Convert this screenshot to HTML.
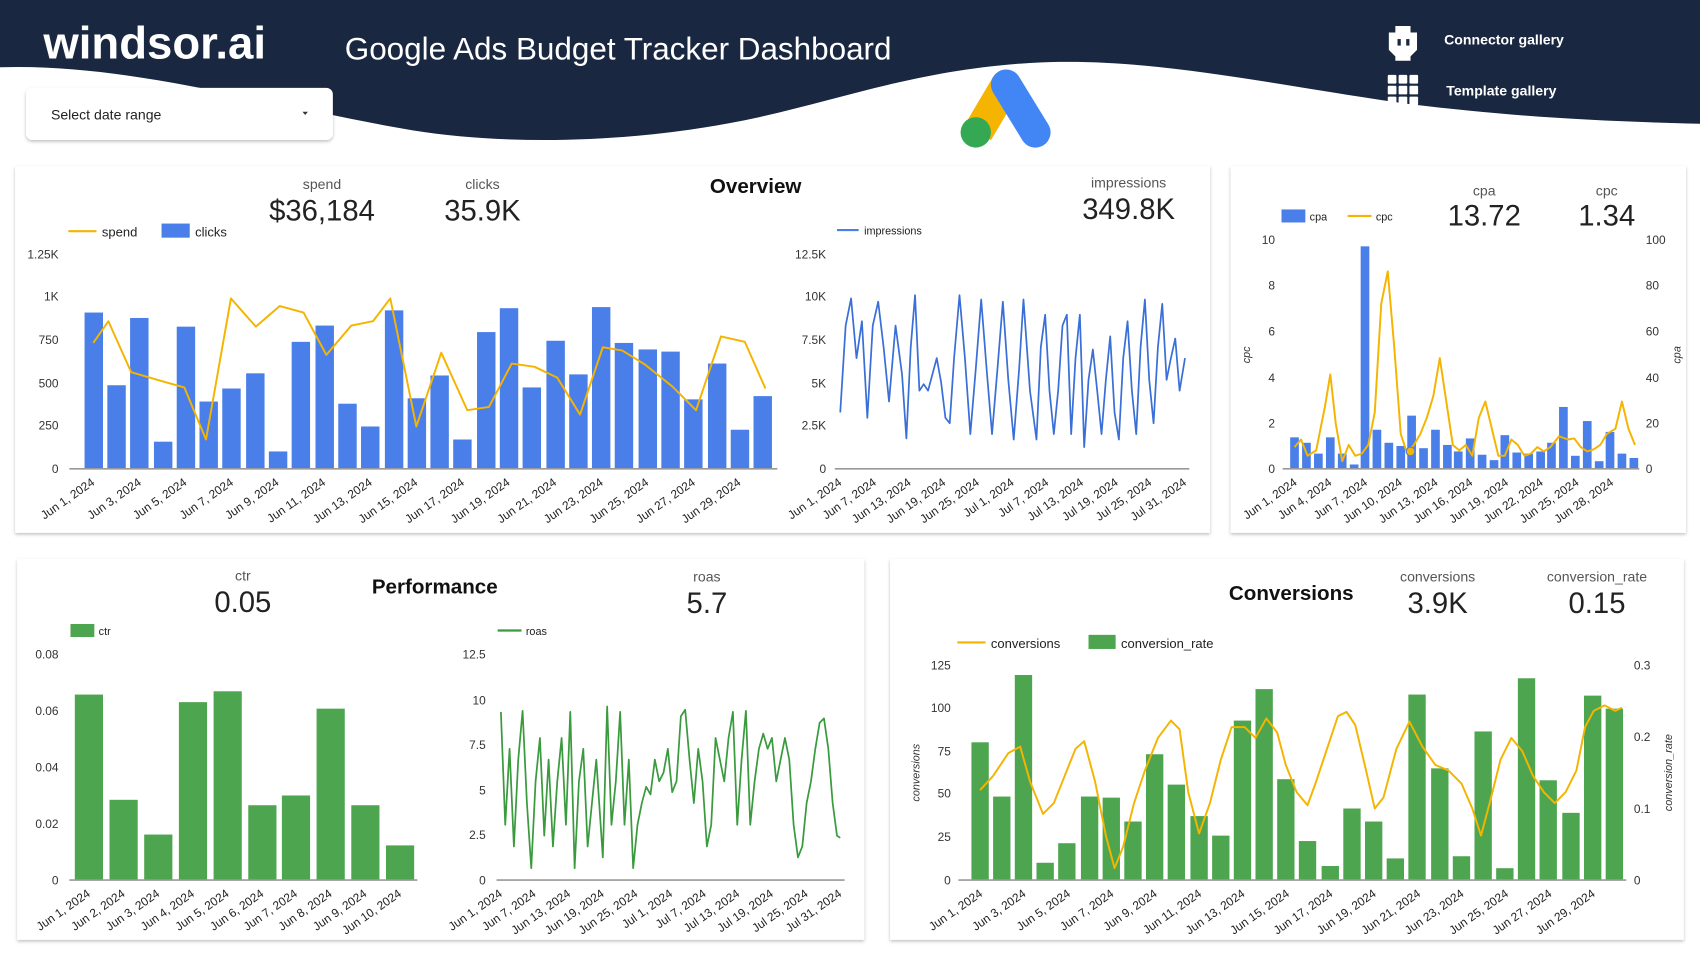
<!DOCTYPE html>
<html><head><meta charset="utf-8"><style>
html,body{margin:0;padding:0;background:#fff;}
svg{display:block;font-family:"Liberation Sans",sans-serif;}
.t{font-size:11px;fill:#333;}
.xl{font-size:11px;fill:#222;}
.ti{font-size:13px;fill:#555;}
.big{font-size:27px;fill:#222;}
.h{font-size:19px;font-weight:bold;fill:#111;}
</style></head><body>
<svg width="1700" height="955" viewBox="0 0 1568 880" preserveAspectRatio="none">
<defs>
<filter id="sh" x="-5%" y="-5%" width="110%" height="115%"><feDropShadow dx="0" dy="1.5" stdDeviation="1.5" flood-color="#000" flood-opacity="0.25"/></filter>
</defs>
<rect width="1568" height="880" fill="#fff"/>
<!-- header -->
<path d="M0,0 H1568 V114 C1480,112 1400,108 1300,96 C1160,76 1060,52 950,58 C850,64 780,90 700,108 C600,130 480,136 380,120 C250,98 120,58 0,62 Z" fill="#1a2741"/>
<text x="40" y="54" style="font-size:42px;font-weight:bold;fill:#fff">windsor.ai</text>
<text x="318" y="55" style="font-size:29px;fill:#fff">Google Ads Budget Tracker Dashboard</text>
<g fill="#fff"><path d="M1287,24 h14 v6 h6 v16 l-6,6 v4 h-14 v-4 l-6,-6 v-16 h6z"/></g>
<rect x="1289" y="36" width="3" height="6" fill="#1a2741"/><rect x="1297" y="36" width="3" height="6" fill="#1a2741"/>
<text x="1332" y="41" style="font-size:13px;font-weight:bold;fill:#fff">Connector gallery</text>
<g fill="#fff"><rect x="1280" y="69" width="8" height="8" rx="1"/><rect x="1290" y="69" width="8" height="8" rx="1"/><rect x="1300" y="69" width="8" height="8" rx="1"/><rect x="1280" y="79" width="8" height="8" rx="1"/><rect x="1290" y="79" width="8" height="8" rx="1"/><rect x="1300" y="79" width="8" height="8" rx="1"/><rect x="1280" y="89" width="8" height="8" rx="1"/><rect x="1290" y="89" width="8" height="8" rx="1"/><rect x="1300" y="89" width="8" height="8" rx="1"/></g>
<text x="1334" y="88" style="font-size:13px;font-weight:bold;fill:#fff">Template gallery</text>
<rect x="24" y="81" width="283" height="48" rx="6" fill="#fff" filter="url(#sh)"/>
<text x="47" y="110" style="font-size:13px;fill:#222">Select date range</text>
<path d="M279,103 h5 l-2.5,3z" fill="#333"/>
<line x1="928" y1="78" x2="902" y2="122" stroke="#f4b400" stroke-width="28" stroke-linecap="butt"/>
<line x1="928" y1="78" x2="955" y2="122" stroke="#4285f4" stroke-width="28" stroke-linecap="round"/>
<circle cx="900" cy="122" r="14" fill="#34a853"/>

<!-- cards -->
<rect x="14" y="153" width="1102" height="338" fill="#fff" filter="url(#sh)"/>
<rect x="1135" y="153" width="420" height="338" fill="#fff" filter="url(#sh)"/>
<rect x="16" y="515" width="781" height="351" fill="#fff" filter="url(#sh)"/>
<rect x="821" y="515" width="732" height="351" fill="#fff" filter="url(#sh)"/>

<!-- Overview -->
<text x="297" y="174" class="ti" text-anchor="middle">spend</text>
<text x="297" y="203" class="big" text-anchor="middle">$36,184</text>
<text x="445" y="174" class="ti" text-anchor="middle">clicks</text>
<text x="445" y="203" class="big" text-anchor="middle">35.9K</text>
<text x="697" y="178" class="h" text-anchor="middle">Overview</text>
<text x="1041" y="173" class="ti" text-anchor="middle">impressions</text>
<text x="1041" y="202" class="big" text-anchor="middle">349.8K</text>
<line x1="63" y1="213" x2="89" y2="213" stroke="#f4b400" stroke-width="2"/>
<text x="94" y="218" style="font-size:12px;fill:#222">spend</text>
<rect x="149" y="206" width="26" height="13" fill="#4a7ee8"/>
<text x="180" y="218" style="font-size:12px;fill:#222">clicks</text>
<g class="t" text-anchor="end">
<text x="54" y="238" class="t">1.25K</text><text x="54" y="277" class="t">1K</text><text x="54" y="317" class="t">750</text><text x="54" y="357" class="t">500</text><text x="54" y="396" class="t">250</text><text x="54" y="436" class="t">0</text>
</g>
<g fill="#4a7ee8">
<rect x="78" y="288" width="17" height="144"/><rect x="99" y="355" width="17" height="77"/><rect x="120" y="293" width="17" height="139"/><rect x="142" y="407" width="17" height="25"/><rect x="163" y="301" width="17" height="131"/><rect x="184" y="370" width="17" height="62"/><rect x="205" y="358" width="17" height="74"/><rect x="227" y="344" width="17" height="88"/><rect x="248" y="416" width="17" height="16"/><rect x="269" y="315" width="17" height="117"/><rect x="291" y="300" width="17" height="132"/><rect x="312" y="372" width="17" height="60"/><rect x="333" y="393" width="17" height="39"/><rect x="355" y="286" width="17" height="146"/><rect x="376" y="367" width="17" height="65"/><rect x="397" y="346" width="17" height="86"/><rect x="418" y="405" width="17" height="27"/><rect x="440" y="306" width="17" height="126"/><rect x="461" y="284" width="17" height="148"/><rect x="482" y="357" width="17" height="75"/><rect x="504" y="314" width="17" height="118"/><rect x="525" y="345" width="17" height="87"/><rect x="546" y="283" width="17" height="149"/><rect x="567" y="316" width="17" height="116"/><rect x="589" y="322" width="17" height="110"/><rect x="610" y="324" width="17" height="108"/><rect x="631" y="368" width="17" height="64"/><rect x="653" y="335" width="17" height="97"/><rect x="674" y="396" width="17" height="36"/><rect x="695" y="365" width="17" height="67"/>
</g>
<line x1="64" y1="432" x2="717" y2="432" stroke="#999" stroke-width="1.5"/>
<polyline fill="none" stroke="#f4b400" stroke-width="1.8" stroke-linejoin="round" points="86,316 100,296 121,343 145,350 170,357 190,405 213,275 236,301 258,282 280,288 301,327 324,300 344,296 360,275 384,393 407,325 431,378 451,375 472,335 493,338 514,348 535,382 556,320 574,323 595,336 620,356 642,378 665,310 687,315 706,358"/>
<g class="xl" text-anchor="end">
<text transform="translate(88,446) rotate(-35)">Jun 1, 2024</text><text transform="translate(131,446) rotate(-35)">Jun 3, 2024</text><text transform="translate(173,446) rotate(-35)">Jun 5, 2024</text><text transform="translate(216,446) rotate(-35)">Jun 7, 2024</text><text transform="translate(258,446) rotate(-35)">Jun 9, 2024</text><text transform="translate(301,446) rotate(-35)">Jun 11, 2024</text><text transform="translate(344,446) rotate(-35)">Jun 13, 2024</text><text transform="translate(386,446) rotate(-35)">Jun 15, 2024</text><text transform="translate(429,446) rotate(-35)">Jun 17, 2024</text><text transform="translate(471,446) rotate(-35)">Jun 19, 2024</text><text transform="translate(514,446) rotate(-35)">Jun 21, 2024</text><text transform="translate(557,446) rotate(-35)">Jun 23, 2024</text><text transform="translate(599,446) rotate(-35)">Jun 25, 2024</text><text transform="translate(642,446) rotate(-35)">Jun 27, 2024</text><text transform="translate(684,446) rotate(-35)">Jun 29, 2024</text>
</g>
<!-- impressions -->
<line x1="772" y1="212" x2="792" y2="212" stroke="#4a7ee8" stroke-width="2"/>
<text x="797" y="216" style="font-size:10px;fill:#222">impressions</text>
<g text-anchor="end">
<text x="762" y="238" class="t">12.5K</text><text x="762" y="277" class="t">10K</text><text x="762" y="317" class="t">7.5K</text><text x="762" y="357" class="t">5K</text><text x="762" y="396" class="t">2.5K</text><text x="762" y="436" class="t">0</text>
</g>
<line x1="770" y1="432" x2="1097" y2="432" stroke="#999" stroke-width="1.5"/>
<polyline fill="none" stroke="#3a6fd8" stroke-width="1.6" stroke-linejoin="round" points="775,380 780,300 785,275 790,330 795,296 800,385 805,300 810,278 815,320 820,370 826,300 832,345 836,404 840,320 844,272 848,360 852,354 856,360 860,345 864,330 868,352 872,385 876,390 880,330 885,272 890,330 895,400 900,340 905,276 910,340 915,400 920,340 925,278 930,350 935,405 940,340 944,276 950,360 956,405 960,320 964,290 968,360 972,400 976,360 980,300 984,290 988,400 992,330 996,290 1000,412 1004,350 1008,322 1012,360 1016,400 1020,350 1024,310 1028,380 1032,405 1036,330 1040,296 1044,360 1048,400 1052,320 1056,276 1060,350 1064,390 1068,320 1072,280 1076,350 1080,330 1084,312 1088,360 1093,330"/>
<g class="xl" text-anchor="end">
<text transform="translate(777,446) rotate(-35)">Jun 1, 2024</text><text transform="translate(809,446) rotate(-35)">Jun 7, 2024</text><text transform="translate(841,446) rotate(-35)">Jun 13, 2024</text><text transform="translate(873,446) rotate(-35)">Jun 19, 2024</text><text transform="translate(904,446) rotate(-35)">Jun 25, 2024</text><text transform="translate(936,446) rotate(-35)">Jul 1, 2024</text><text transform="translate(968,446) rotate(-35)">Jul 7, 2024</text><text transform="translate(1000,446) rotate(-35)">Jul 13, 2024</text><text transform="translate(1032,446) rotate(-35)">Jul 19, 2024</text><text transform="translate(1063,446) rotate(-35)">Jul 25, 2024</text><text transform="translate(1095,446) rotate(-35)">Jul 31, 2024</text>
</g>

<!-- cpa/cpc -->
<rect x="1182" y="193" width="22" height="12" fill="#4a7ee8"/><text x="1208" y="203" style="font-size:10px;fill:#222">cpa</text>
<line x1="1243" y1="199" x2="1265" y2="199" stroke="#f4b400" stroke-width="2"/><text x="1269" y="203" style="font-size:10px;fill:#222">cpc</text>
<text x="1369" y="180" class="ti" text-anchor="middle">cpa</text><text x="1369" y="208" class="big" text-anchor="middle">13.72</text>
<text x="1482" y="180" class="ti" text-anchor="middle">cpc</text><text x="1482" y="208" class="big" text-anchor="middle">1.34</text>
<g text-anchor="end">
<text x="1176" y="225" class="t">10</text><text x="1176" y="267" class="t">8</text><text x="1176" y="309" class="t">6</text><text x="1176" y="352" class="t">4</text><text x="1176" y="394" class="t">2</text><text x="1176" y="436" class="t">0</text>
</g>
<g>
<text x="1518" y="225" class="t">100</text><text x="1518" y="267" class="t">80</text><text x="1518" y="309" class="t">60</text><text x="1518" y="352" class="t">40</text><text x="1518" y="394" class="t">20</text><text x="1518" y="436" class="t">0</text>
</g>
<text transform="translate(1153,327) rotate(-90)" style="font-size:10px;fill:#333;font-style:italic" text-anchor="middle">cpc</text>
<text transform="translate(1550,327) rotate(-90)" style="font-size:10px;fill:#333;font-style:italic" text-anchor="middle">cpa</text>
<g fill="#4a7ee8">
<rect x="1190" y="403" width="8" height="29"/><rect x="1201" y="408" width="8" height="24"/><rect x="1212" y="418" width="8" height="14"/><rect x="1223" y="403" width="8" height="29"/><rect x="1234" y="418" width="8" height="14"/><rect x="1245" y="428" width="8" height="4"/><rect x="1255" y="227" width="8" height="205"/><rect x="1266" y="396" width="8" height="36"/><rect x="1277" y="408" width="8" height="24"/><rect x="1288" y="411" width="8" height="21"/><rect x="1298" y="383" width="8" height="49"/><rect x="1309" y="413" width="8" height="19"/><rect x="1320" y="396" width="8" height="36"/><rect x="1331" y="410" width="8" height="22"/><rect x="1341" y="416" width="8" height="16"/><rect x="1352" y="404" width="8" height="28"/><rect x="1363" y="419" width="8" height="13"/><rect x="1374" y="424" width="8" height="8"/><rect x="1384" y="401" width="8" height="31"/><rect x="1395" y="417" width="8" height="15"/><rect x="1406" y="418" width="8" height="14"/><rect x="1417" y="416" width="8" height="16"/><rect x="1427" y="408" width="8" height="24"/><rect x="1438" y="375" width="8" height="57"/><rect x="1449" y="420" width="8" height="12"/><rect x="1460" y="388" width="8" height="44"/><rect x="1471" y="425" width="8" height="7"/><rect x="1481" y="398" width="8" height="34"/><rect x="1492" y="418" width="8" height="14"/><rect x="1503" y="422" width="8" height="10"/>
</g>
<line x1="1183" y1="432" x2="1512" y2="432" stroke="#999" stroke-width="1.5"/>
<polyline fill="none" stroke="#f4b400" stroke-width="1.8" stroke-linejoin="round" points="1194,412 1200,405 1206,420 1214,415 1222,375 1227,345 1232,390 1238,425 1244,410 1250,420 1256,418 1262,410 1268,380 1274,280 1280,250 1286,320 1292,400 1298,418 1304,410 1310,400 1316,385 1322,365 1328,330 1334,370 1340,410 1346,415 1352,410 1358,420 1364,385 1370,370 1376,395 1382,420 1388,420 1394,405 1400,410 1406,420 1412,418 1418,412 1424,416 1430,412 1438,402 1446,405 1452,404 1458,412 1464,416 1470,414 1476,410 1482,400 1490,395 1496,370 1502,395 1508,410"/>
<circle cx="1301" cy="416" r="4" fill="#f4b400" stroke="#4a7ee8" stroke-width="1"/>
<g class="xl" text-anchor="end">
<text transform="translate(1197,446) rotate(-35)">Jun 1, 2024</text><text transform="translate(1229,446) rotate(-35)">Jun 4, 2024</text><text transform="translate(1262,446) rotate(-35)">Jun 7, 2024</text><text transform="translate(1294,446) rotate(-35)">Jun 10, 2024</text><text transform="translate(1327,446) rotate(-35)">Jun 13, 2024</text><text transform="translate(1359,446) rotate(-35)">Jun 16, 2024</text><text transform="translate(1392,446) rotate(-35)">Jun 19, 2024</text><text transform="translate(1424,446) rotate(-35)">Jun 22, 2024</text><text transform="translate(1457,446) rotate(-35)">Jun 25, 2024</text><text transform="translate(1489,446) rotate(-35)">Jun 28, 2024</text>
</g>

<!-- Performance -->
<text x="224" y="535" class="ti" text-anchor="middle">ctr</text><text x="224" y="564" class="big" text-anchor="middle">0.05</text>
<text x="401" y="547" class="h" text-anchor="middle">Performance</text>
<text x="652" y="536" class="ti" text-anchor="middle">roas</text><text x="652" y="565" class="big" text-anchor="middle">5.7</text>
<rect x="65" y="575" width="22" height="12" fill="#4ea550"/><text x="91" y="585" style="font-size:10px;fill:#222">ctr</text>
<line x1="459" y1="581" x2="481" y2="581" stroke="#3a9a3e" stroke-width="2"/><text x="485" y="585" style="font-size:10px;fill:#222">roas</text>
<g text-anchor="end">
<text x="54" y="607" class="t">0.08</text><text x="54" y="659" class="t">0.06</text><text x="54" y="711" class="t">0.04</text><text x="54" y="763" class="t">0.02</text><text x="54" y="815" class="t">0</text>
</g>
<g fill="#4ea550">
<rect x="69" y="640" width="26" height="171"/><rect x="101" y="737" width="26" height="74"/><rect x="133" y="769" width="26" height="42"/><rect x="165" y="647" width="26" height="164"/><rect x="197" y="637" width="26" height="174"/><rect x="229" y="742" width="26" height="69"/><rect x="260" y="733" width="26" height="78"/><rect x="292" y="653" width="26" height="158"/><rect x="324" y="742" width="26" height="69"/><rect x="356" y="779" width="26" height="32"/>
</g>
<line x1="64" y1="811" x2="385" y2="811" stroke="#999" stroke-width="1.5"/>
<g class="xl" text-anchor="end">
<text transform="translate(84,825) rotate(-35)">Jun 1, 2024</text><text transform="translate(116,825) rotate(-35)">Jun 2, 2024</text><text transform="translate(148,825) rotate(-35)">Jun 3, 2024</text><text transform="translate(180,825) rotate(-35)">Jun 4, 2024</text><text transform="translate(212,825) rotate(-35)">Jun 5, 2024</text><text transform="translate(244,825) rotate(-35)">Jun 6, 2024</text><text transform="translate(275,825) rotate(-35)">Jun 7, 2024</text><text transform="translate(307,825) rotate(-35)">Jun 8, 2024</text><text transform="translate(339,825) rotate(-35)">Jun 9, 2024</text><text transform="translate(371,825) rotate(-35)">Jun 10, 2024</text>
</g>
<g text-anchor="end">
<text x="448" y="607" class="t">12.5</text><text x="448" y="649" class="t">10</text><text x="448" y="690" class="t">7.5</text><text x="448" y="732" class="t">5</text><text x="448" y="773" class="t">2.5</text><text x="448" y="815" class="t">0</text>
</g>
<line x1="458" y1="811" x2="779" y2="811" stroke="#999" stroke-width="1.5"/>
<polyline fill="none" stroke="#3a9a3e" stroke-width="1.6" stroke-linejoin="round" points="462,656 466,760 470,690 474,780 478,700 482,655 486,740 490,800 494,720 498,680 502,770 506,700 510,780 514,720 518,680 522,760 526,656 530,800 534,720 538,690 542,780 546,740 550,700 556,790 560,651 564,760 568,720 572,656 576,760 580,700 584,800 588,760 592,740 596,725 600,732 604,700 608,720 612,712 616,690 620,730 624,720 628,660 632,654 636,700 640,740 644,690 648,720 652,780 656,760 660,680 664,700 668,720 672,680 676,656 680,760 684,700 688,655 692,760 696,720 700,690 704,676 708,690 712,680 716,720 720,700 724,680 728,700 732,760 736,790 740,780 744,740 748,720 752,690 756,666 760,662 764,690 768,740 772,770 775,772"/>
<g class="xl" text-anchor="end">
<text transform="translate(464,825) rotate(-35)">Jun 1, 2024</text><text transform="translate(495,825) rotate(-35)">Jun 7, 2024</text><text transform="translate(527,825) rotate(-35)">Jun 13, 2024</text><text transform="translate(558,825) rotate(-35)">Jun 19, 2024</text><text transform="translate(589,825) rotate(-35)">Jun 25, 2024</text><text transform="translate(621,825) rotate(-35)">Jul 1, 2024</text><text transform="translate(652,825) rotate(-35)">Jul 7, 2024</text><text transform="translate(683,825) rotate(-35)">Jul 13, 2024</text><text transform="translate(714,825) rotate(-35)">Jul 19, 2024</text><text transform="translate(746,825) rotate(-35)">Jul 25, 2024</text><text transform="translate(777,825) rotate(-35)">Jul 31, 2024</text>
</g>

<!-- Conversions -->
<text x="1191" y="553" class="h" text-anchor="middle">Conversions</text>
<text x="1326" y="536" class="ti" text-anchor="middle">conversions</text><text x="1326" y="565" class="big" text-anchor="middle">3.9K</text>
<text x="1473" y="536" class="ti" text-anchor="middle">conversion_rate</text><text x="1473" y="565" class="big" text-anchor="middle">0.15</text>
<line x1="883" y1="592" x2="909" y2="592" stroke="#f4b400" stroke-width="2"/><text x="914" y="597" style="font-size:12px;fill:#222">conversions</text>
<rect x="1004" y="585" width="25" height="13" fill="#4ea550"/><text x="1034" y="597" style="font-size:12px;fill:#222">conversion_rate</text>
<g text-anchor="end">
<text x="877" y="617" class="t">125</text><text x="877" y="656" class="t">100</text><text x="877" y="696" class="t">75</text><text x="877" y="735" class="t">50</text><text x="877" y="775" class="t">25</text><text x="877" y="815" class="t">0</text>
</g>
<g><text x="1507" y="617" class="t">0.3</text><text x="1507" y="683" class="t">0.2</text><text x="1507" y="749" class="t">0.1</text><text x="1507" y="815" class="t">0</text></g>
<text transform="translate(848,712) rotate(-90)" style="font-size:10px;fill:#333;font-style:italic" text-anchor="middle">conversions</text>
<text transform="translate(1542,712) rotate(-90)" style="font-size:10px;fill:#333;font-style:italic" text-anchor="middle">conversion_rate</text>
<g fill="#4ea550">
<rect x="896" y="684" width="16" height="127"/><rect x="916" y="734" width="16" height="77"/><rect x="936" y="622" width="16" height="189"/><rect x="956" y="795" width="16" height="16"/><rect x="976" y="777" width="16" height="34"/><rect x="997" y="734" width="16" height="77"/><rect x="1017" y="735" width="16" height="76"/><rect x="1037" y="757" width="16" height="54"/><rect x="1057" y="695" width="16" height="116"/><rect x="1077" y="723" width="16" height="88"/><rect x="1098" y="752" width="16" height="59"/><rect x="1118" y="770" width="16" height="41"/><rect x="1138" y="664" width="16" height="147"/><rect x="1158" y="635" width="16" height="176"/><rect x="1178" y="718" width="16" height="93"/><rect x="1198" y="775" width="16" height="36"/><rect x="1219" y="798" width="16" height="13"/><rect x="1239" y="745" width="16" height="66"/><rect x="1259" y="757" width="16" height="54"/><rect x="1279" y="791" width="16" height="20"/><rect x="1299" y="640" width="16" height="171"/><rect x="1320" y="708" width="16" height="103"/><rect x="1340" y="789" width="16" height="22"/><rect x="1360" y="674" width="16" height="137"/><rect x="1380" y="800" width="16" height="11"/><rect x="1400" y="625" width="16" height="186"/><rect x="1420" y="719" width="16" height="92"/><rect x="1441" y="749" width="16" height="62"/><rect x="1461" y="641" width="16" height="170"/><rect x="1481" y="653" width="16" height="158"/>
</g>
<line x1="884" y1="811" x2="1500" y2="811" stroke="#999" stroke-width="1.5"/>
<polyline fill="none" stroke="#f4b400" stroke-width="1.8" stroke-linejoin="round" points="904,728 916,715 930,694 941,688 950,720 962,750 972,740 982,715 992,690 1000,683 1010,720 1020,770 1028,800 1036,780 1046,740 1056,710 1068,680 1080,664 1088,672 1096,730 1106,768 1116,740 1126,700 1136,670 1148,670 1158,680 1168,662 1178,675 1186,705 1196,730 1206,742 1214,720 1224,690 1234,660 1242,656 1250,668 1260,710 1268,745 1276,735 1288,690 1300,665 1312,688 1324,705 1336,710 1348,722 1358,745 1366,770 1374,740 1384,700 1394,680 1404,692 1414,715 1424,730 1434,740 1444,730 1454,710 1462,670 1470,655 1480,650 1490,655 1496,652"/>
<g class="xl" text-anchor="end">
<text transform="translate(907,825) rotate(-35)">Jun 1, 2024</text><text transform="translate(947,825) rotate(-35)">Jun 3, 2024</text><text transform="translate(988,825) rotate(-35)">Jun 5, 2024</text><text transform="translate(1028,825) rotate(-35)">Jun 7, 2024</text><text transform="translate(1068,825) rotate(-35)">Jun 9, 2024</text><text transform="translate(1109,825) rotate(-35)">Jun 11, 2024</text><text transform="translate(1149,825) rotate(-35)">Jun 13, 2024</text><text transform="translate(1190,825) rotate(-35)">Jun 15, 2024</text><text transform="translate(1230,825) rotate(-35)">Jun 17, 2024</text><text transform="translate(1270,825) rotate(-35)">Jun 19, 2024</text><text transform="translate(1311,825) rotate(-35)">Jun 21, 2024</text><text transform="translate(1351,825) rotate(-35)">Jun 23, 2024</text><text transform="translate(1392,825) rotate(-35)">Jun 25, 2024</text><text transform="translate(1432,825) rotate(-35)">Jun 27, 2024</text><text transform="translate(1472,825) rotate(-35)">Jun 29, 2024</text>
</g>
</svg>
</body></html>
